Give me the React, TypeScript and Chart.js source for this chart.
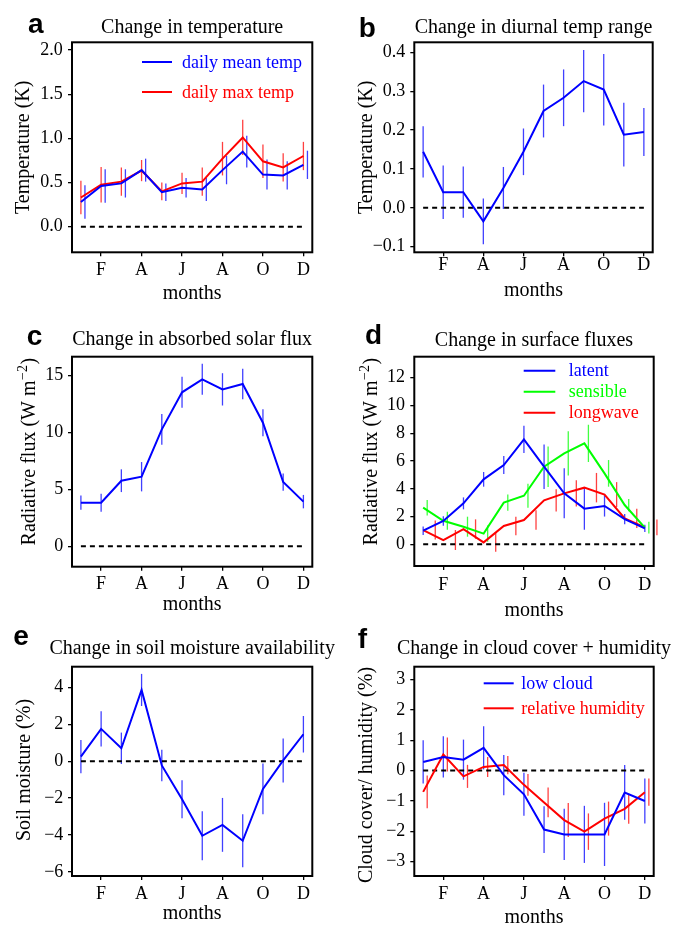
import React, { useEffect, useRef } from 'react';
import { Chart, registerables } from 'chart.js';

Chart.register(...registerables);

const SERIF = '"Liberation Serif", "Times New Roman", serif';
const SANS = '"Liberation Sans", Arial, sans-serif';

// ---- shared axis data ----
const months = [1, 2, 3, 4, 5, 6, 7, 8, 9, 10, 11, 12];
const monthTickValues = [2, 4, 6, 8, 10, 12];
const monthTickLabels = ['F', 'A', 'J', 'A', 'O', 'D'];

// ---- panel a: temperature ----
const tempMean = [0.28, 0.46, 0.49, 0.64, 0.39, 0.44, 0.42, 0.64, 0.85, 0.59, 0.58, 0.7];
const tempMeanErr = [0.19, 0.19, 0.16, 0.13, 0.1, 0.11, 0.13, 0.16, 0.18, 0.17, 0.16, 0.16];
const tempMax = [0.33, 0.475, 0.51, 0.635, 0.4, 0.49, 0.51, 0.77, 1.01, 0.74, 0.67, 0.8];
const tempMaxErr = [0.19, 0.2, 0.16, 0.12, 0.1, 0.12, 0.16, 0.19, 0.2, 0.19, 0.16, 0.16];
const tempTicks = [0, 0.5, 1, 1.5, 2];

// ---- panel b: diurnal temperature range ----
const dtr = [0.144, 0.04, 0.04, -0.035, 0.051, 0.144, 0.249, 0.283, 0.326, 0.304, 0.188, 0.195];
const dtrErr = [0.066, 0.069, 0.066, 0.059, 0.054, 0.06, 0.068, 0.073, 0.08, 0.092, 0.082, 0.062];
const dtrTicks = [-0.1, 0, 0.1, 0.2, 0.3, 0.4];

// ---- panel c: absorbed solar flux ----
const solar = [3.84, 3.84, 5.77, 6.12, 10.28, 13.54, 14.68, 13.8, 14.27, 10.87, 5.65, 3.93];
const solarErr = [0.62, 0.79, 1.0, 1.29, 1.35, 1.36, 1.36, 1.42, 1.33, 1.19, 0.76, 0.59];
const solarTicks = [0, 5, 10, 15];

// ---- panel d: surface fluxes ----
const latent = [0.98, 1.68, 2.95, 4.68, 5.71, 7.56, 5.59, 3.67, 2.57, 2.76, 1.82, 1.15];
const latentErr = [0.3, 0.34, 0.43, 0.53, 0.65, 0.98, 1.6, 1.8, 1.52, 0.76, 0.37, 0.26];
const sensible = [2.64, 1.7, 1.27, 0.77, 3.0, 3.5, 5.59, 6.55, 7.27, 5.11, 2.83, 1.2];
const sensibleErr = [0.56, 0.65, 0.72, 0.59, 0.58, 0.86, 1.46, 1.6, 1.34, 0.96, 0.44, 0.42];
const longwave = [1.03, 0.31, 1.1, 0.14, 1.32, 1.75, 3.17, 3.67, 4.08, 3.58, 1.87, 1.22];
const longwaveErr = [0.68, 0.72, 0.7, 0.68, 0.66, 0.7, 0.8, 0.94, 1.06, 0.9, 0.7, 0.56];
const fluxTicks = [0, 2, 4, 6, 8, 10, 12];

// ---- panel e: soil moisture ----
const soil = [0.25, 1.75, 0.7, 3.86, -0.23, -2.06, -4.04, -3.45, -4.31, -1.5, 0.04, 1.46];
const soilErr = [0.9, 0.95, 0.85, 0.87, 0.85, 1.03, 1.33, 1.46, 1.43, 1.37, 1.19, 0.99];
const soilTicks = [-6, -4, -2, 0, 2, 4];

// ---- panel f: cloud cover + humidity ----
const lowCloud = [0.285, 0.45, 0.36, 0.75, -0.15, -0.78, -1.94, -2.1, -2.1, -2.1, -0.72, -1.0];
const lowCloudErr = [0.71, 0.68, 0.66, 0.71, 0.66, 0.71, 0.77, 0.84, 0.94, 1.04, 0.9, 0.74];
const relHum = [-0.7, 0.53, -0.19, 0.12, 0.18, -0.47, -1.05, -1.63, -2.01, -1.58, -1.26, -0.71];
const relHumErr = [0.54, 0.56, 0.38, 0.33, 0.3, 0.36, 0.49, 0.56, 0.6, 0.56, 0.49, 0.45];
const cloudTicks = [-3, -2, -1, 0, 1, 2, 3];

const BLUE = '#0000ff';
const RED = '#ff0000';
const GREEN = '#00ff00';

type Series = {
  label: string;
  color: string;
  values: number[];
  errors: number[];
  errOffset: number;
};

type YTitle = { text: string; sup?: string; tail?: string };

type PanelSpec = {
  letter: string;
  title: string;
  left: number;
  top: number;
  width: number;
  height: number;
  box: { l: number; r: number; t: number; b: number };
  xMin: number;
  xMax: number;
  yMin: number;
  yMax: number;
  yTicks: number[];
  yDec: number;
  yTickPad: number;
  xTickPad: number;
  xTitlePad: number;
  titleY: number;
  letterX: number;
  letterY: number;
  yTitle: YTitle;
  yTitleX: number;
  yTitleY: number;
  series: Series[];
  legend: { x1: number; x2: number; tx: number; ys: number[] } | null;
};

const fluxTitle: YTitle = { text: 'Radiative flux (W m', sup: '\u22122', tail: ')' };

const panels: PanelSpec[] = [
  {
    letter: 'a', title: 'Change in temperature',
    left: 0, top: 0, width: 337, height: 310,
    box: { l: 72, r: 312.3, t: 42.3, b: 252.3 },
    xMin: 0.56, xMax: 12.44, yMin: -0.29, yMax: 2.087,
    yTicks: tempTicks, yDec: 1, yTickPad: 5.3, xTickPad: 5.3, xTitlePad: 6.75,
    titleY: 33.3, letterX: 28, letterY: 33,
    yTitle: { text: 'Temperature (K)' }, yTitleX: 29, yTitleY: 147.3,
    series: [
      { label: 'daily mean temp', color: BLUE, values: tempMean, errors: tempMeanErr, errOffset: 0.2 },
      { label: 'daily max temp', color: RED, values: tempMax, errors: tempMaxErr, errOffset: 0 },
    ],
    legend: { x1: 142, x2: 172, tx: 182, ys: [62, 92] },
  },
  {
    letter: 'b', title: 'Change in diurnal temp range',
    left: 337, top: 0, width: 337, height: 310,
    box: { l: 77.3, r: 315.7, t: 42.3, b: 252.3 },
    xMin: 0.56, xMax: 12.44, yMin: -0.1146, yMax: 0.4258,
    yTicks: dtrTicks, yDec: 1, yTickPad: 5, xTickPad: 0.3, xTitlePad: 9.75,
    titleY: 32.7, letterX: 21.7, letterY: 36.7,
    yTitle: { text: 'Temperature (K)' }, yTitleX: 35, yTitleY: 147.3,
    series: [
      { label: 'diurnal temp range', color: BLUE, values: dtr, errors: dtrErr, errOffset: 0 },
    ],
    legend: null,
  },
  {
    letter: 'c', title: 'Change in absorbed solar flux',
    left: 0, top: 310, width: 337, height: 310,
    box: { l: 72, r: 312.3, t: 46.7, b: 256.7 },
    xMin: 0.56, xMax: 12.44, yMin: -1.79, yMax: 16.67,
    yTicks: solarTicks, yDec: 0, yTickPad: 4.7, xTickPad: 4.2, xTitlePad: 5.75,
    titleY: 35, letterX: 26.7, letterY: 35,
    yTitle: fluxTitle, yTitleX: 35, yTitleY: 141.7,
    series: [
      { label: 'absorbed solar', color: BLUE, values: solar, errors: solarErr, errOffset: 0 },
    ],
    legend: null,
  },
  {
    letter: 'd', title: 'Change in surface fluxes',
    left: 337, top: 310, width: 337, height: 310,
    box: { l: 77.3, r: 316.7, t: 46.7, b: 256 },
    xMin: 0.56, xMax: 12.44, yMin: -1.56, yMax: 13.51,
    yTicks: fluxTicks, yDec: 0, yTickPad: 5.3, xTickPad: 6.6, xTitlePad: -0.25,
    titleY: 36, letterX: 28, letterY: 34.3,
    yTitle: fluxTitle, yTitleX: 40, yTitleY: 141.7,
    series: [
      { label: 'latent', color: BLUE, values: latent, errors: latentErr, errOffset: 0 },
      { label: 'sensible', color: GREEN, values: sensible, errors: sensibleErr, errOffset: 0.2 },
      { label: 'longwave', color: RED, values: longwave, errors: longwaveErr, errOffset: 0.6 },
    ],
    legend: { x1: 186.7, x2: 218.3, tx: 231.7, ys: [60.7, 81.7, 102.7] },
  },
  {
    letter: 'e', title: 'Change in soil moisture availability',
    left: 0, top: 620, width: 337, height: 306,
    box: { l: 72, r: 312.3, t: 46.7, b: 256 },
    xMin: 0.56, xMax: 12.44, yMin: -6.22, yMax: 5.12,
    yTicks: soilTicks, yDec: 0, yTickPad: 4.7, xTickPad: 4.9, xTitlePad: 2.75,
    titleY: 34.3, letterX: 13.3, letterY: 25,
    yTitle: { text: 'Soil moisture (%)' }, yTitleX: 30, yTitleY: 150,
    series: [
      { label: 'soil moisture', color: BLUE, values: soil, errors: soilErr, errOffset: 0 },
    ],
    legend: null,
  },
  {
    letter: 'f', title: 'Change in cloud cover + humidity',
    left: 337, top: 620, width: 337, height: 306,
    box: { l: 77.3, r: 316.7, t: 46.7, b: 256 },
    xMin: 0.56, xMax: 12.44, yMin: -3.47, yMax: 3.42,
    yTicks: cloudTicks, yDec: 0, yTickPad: 5, xTickPad: 4.9, xTitlePad: -1.25,
    titleY: 34.3, letterX: 20.7, letterY: 28.3,
    yTitle: { text: 'Cloud cover/ humidity (%)' }, yTitleX: 35, yTitleY: 155,
    series: [
      { label: 'low cloud', color: BLUE, values: lowCloud, errors: lowCloudErr, errOffset: 0 },
      { label: 'relative humidity', color: RED, values: relHum, errors: relHumErr, errOffset: 0.2 },
    ],
    legend: { x1: 146.7, x2: 176.7, tx: 184.3, ys: [63.3, 88.3] },
  },
];

function fmt(v: number, d: number): string {
  const s = Math.abs(v).toFixed(d);
  return v < -1e-9 ? '\u2212' + s : s;
}

function makeDecor(spec: PanelSpec) {
  return {
    id: 'decor' + spec.letter,
    beforeDatasetsDraw(chart: any) {
      const { ctx } = chart;
      const xs = chart.scales.x;
      const ys = chart.scales.y;
      ctx.save();
      ctx.lineWidth = 1.3;
      spec.series.forEach((s) => {
        ctx.strokeStyle = s.color;
        ctx.globalAlpha = 0.75;
        s.values.forEach((v, i) => {
          const px = xs.getPixelForValue(months[i] + s.errOffset);
          const y1 = ys.getPixelForValue(v - s.errors[i]);
          const y2 = ys.getPixelForValue(v + s.errors[i]);
          ctx.beginPath();
          ctx.moveTo(px, y1);
          ctx.lineTo(px, y2);
          ctx.stroke();
        });
      });
      ctx.restore();
    },
    afterDraw(chart: any) {
      const { ctx, chartArea } = chart;
      ctx.save();
      // box
      ctx.strokeStyle = '#000';
      ctx.lineWidth = 2;
      ctx.strokeRect(chartArea.left, chartArea.top, chartArea.right - chartArea.left, chartArea.bottom - chartArea.top);

      // legend
      if (spec.legend) {
        const lg = spec.legend;
        ctx.font = `18px ${SERIF}`;
        ctx.textAlign = 'left';
        ctx.textBaseline = 'middle';
        spec.series.forEach((s, i) => {
          const y = lg.ys[i];
          ctx.strokeStyle = s.color;
          ctx.lineWidth = 2;
          ctx.beginPath();
          ctx.moveTo(lg.x1, y);
          ctx.lineTo(lg.x2, y);
          ctx.stroke();
          ctx.fillStyle = s.color;
          ctx.fillText(s.label, lg.tx, y + 1);
        });
      }

      // title
      ctx.fillStyle = '#000';
      ctx.font = `20px ${SERIF}`;
      ctx.textAlign = 'center';
      ctx.textBaseline = 'alphabetic';
      ctx.fillText(spec.title, (chartArea.left + chartArea.right) / 2, spec.titleY);

      // panel letter
      ctx.font = `bold 28px ${SANS}`;
      ctx.textAlign = 'left';
      ctx.fillText(spec.letter, spec.letterX, spec.letterY);

      // y-axis title (with optional superscript)
      const t = spec.yTitle;
      ctx.translate(spec.yTitleX, spec.yTitleY);
      ctx.rotate(-Math.PI / 2);
      const mainFont = `20px ${SERIF}`;
      const supFont = `14px ${SERIF}`;
      ctx.font = mainFont;
      const w1 = ctx.measureText(t.text).width;
      const w3 = t.tail ? ctx.measureText(t.tail).width : 0;
      ctx.font = supFont;
      const w2 = t.sup ? ctx.measureText(t.sup).width + 1 : 0;
      let x0 = -(w1 + w2 + w3) / 2;
      ctx.textAlign = 'left';
      ctx.font = mainFont;
      ctx.fillText(t.text, x0, 0);
      x0 += w1;
      if (t.sup) {
        ctx.font = supFont;
        ctx.fillText(t.sup, x0 + 0.5, -8);
        x0 += w2;
      }
      if (t.tail) {
        ctx.font = mainFont;
        ctx.fillText(t.tail, x0, 0);
      }
      ctx.restore();
    },
  };
}

function Panel({ spec }: { spec: PanelSpec }) {
  const ref = useRef<HTMLCanvasElement | null>(null);

  useEffect(() => {
    const canvas = ref.current;
    if (!canvas) return;
    const datasets: any[] = spec.series.map((s) => ({
      label: s.label,
      data: s.values.map((v, i) => ({ x: months[i], y: v })),
      borderColor: s.color,
      backgroundColor: s.color,
      borderWidth: 2,
      pointRadius: 0,
      tension: 0,
      fill: false,
    }));
    datasets.push({
      label: 'zero',
      data: [{ x: months[0], y: 0 }, { x: months[months.length - 1], y: 0 }],
      borderColor: '#000',
      borderWidth: 2,
      borderDash: [5, 4],
      pointRadius: 0,
      fill: false,
    });

    const chart = new Chart(canvas, {
      type: 'line',
      data: { datasets },
      options: {
        animation: false,
        responsive: false,
        devicePixelRatio: 1,
        events: [],
        layout: {
          padding: { left: 0, top: spec.box.t, right: spec.width - spec.box.r, bottom: 0 },
        },
        plugins: {
          legend: { display: false },
          title: { display: false },
          tooltip: { enabled: false },
        },
        scales: {
          x: {
            type: 'linear',
            position: 'bottom',
            min: spec.xMin,
            max: spec.xMax,
            afterBuildTicks: (s: any) => {
              s.ticks = monthTickValues.map((v) => ({ value: v }));
            },
            afterFit: (s: any) => {
              s.height = spec.height - spec.box.b;
            },
            ticks: {
              autoSkip: false,
              maxRotation: 0,
              color: '#000',
              padding: spec.xTickPad,
              font: { family: SERIF, size: 18, lineHeight: 1 },
              callback: (v: any) => {
                const k = monthTickValues.indexOf(Number(v));
                return k >= 0 ? monthTickLabels[k] : '';
              },
            },
            grid: { drawOnChartArea: false, drawTicks: true, tickLength: 4, color: '#000', lineWidth: 1.3 },
            border: { display: false },
            title: {
              display: true,
              text: 'months',
              color: '#000',
              font: { family: SERIF, size: 20, lineHeight: 1 },
              padding: { top: 0, bottom: spec.xTitlePad },
            },
          },
          y: {
            type: 'linear',
            position: 'left',
            min: spec.yMin,
            max: spec.yMax,
            afterBuildTicks: (s: any) => {
              s.ticks = spec.yTicks.map((v) => ({ value: v }));
            },
            afterFit: (s: any) => {
              s.width = spec.box.l;
            },
            ticks: {
              color: '#000',
              padding: spec.yTickPad,
              font: { family: SERIF, size: 18, lineHeight: 1 },
              callback: (v: any) => fmt(Number(v), spec.yDec),
            },
            grid: { drawOnChartArea: false, drawTicks: true, tickLength: 4, color: '#000', lineWidth: 1.3 },
            border: { display: false },
          },
        },
      } as any,
      plugins: [makeDecor(spec)],
    });
    return () => chart.destroy();
  }, [spec]);

  return (
    <canvas
      ref={ref}
      width={spec.width}
      height={spec.height}
      style={{ position: 'absolute', left: spec.left, top: spec.top, width: spec.width, height: spec.height }}
    />
  );
}

export default function App() {
  return (
    <div style={{ position: 'absolute', left: 0, top: 0, width: 674, height: 926, background: '#fff', overflow: 'hidden' }}>
      {panels.map((p) => (
        <Panel key={p.letter} spec={p} />
      ))}
    </div>
  );
}
